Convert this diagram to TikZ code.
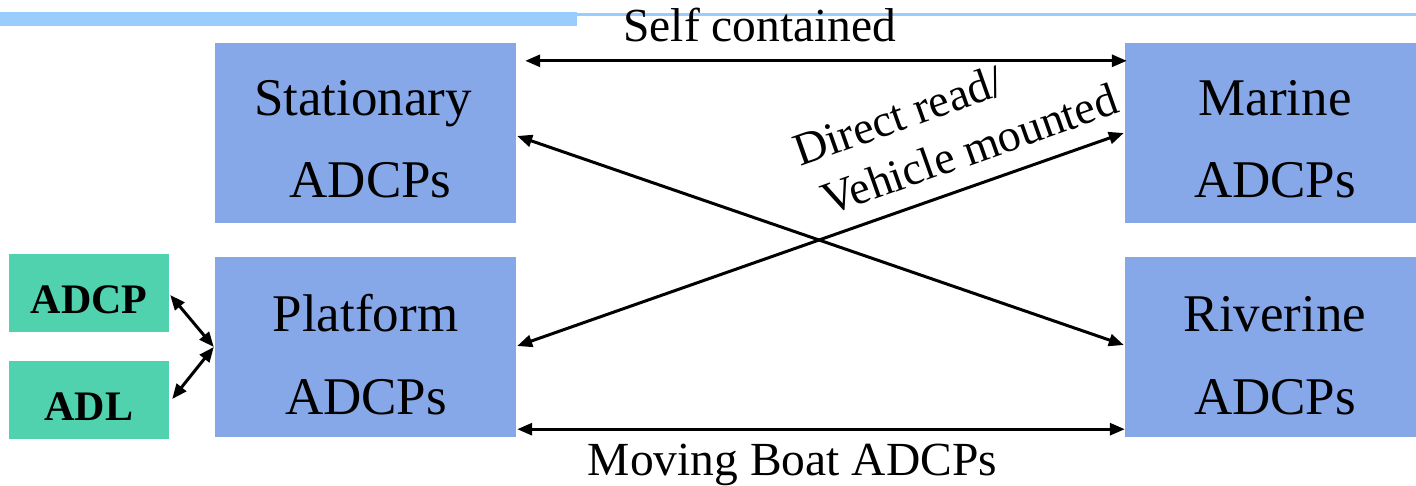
\documentclass[tikz,border=0pt]{standalone}
\usepackage{fontspec}
\setmainfont{Liberation Serif}
\usetikzlibrary{arrows.meta,calc}
\definecolor{boxblue}{HTML}{87A8E8}
\definecolor{boxgreen}{HTML}{50D2AF}
\definecolor{barblue}{HTML}{99CCFF}
\begin{document}
\begin{tikzpicture}[x=1pt,y=-1pt,
  bigbox/.style={fill=boxblue,draw=none,minimum width=301pt,minimum height=180pt,inner sep=0pt},
  smallbox/.style={fill=boxgreen,draw=none,minimum width=160pt,minimum height=78pt,inner sep=0pt},
  boxtext/.style={anchor=base,inner sep=0pt,font=\fontsize{53}{60}\selectfont},
  smalltext/.style={anchor=base,inner sep=0pt,font=\fontsize{42}{48}\selectfont\bfseries},
  linklabel/.style={anchor=base,inner sep=0pt,font=\fontsize{47.5}{54}\selectfont},
  slanted/.style={anchor=base west,inner sep=0pt,rotate=19.5,align=left,font=\fontsize{46}{55.6}\selectfont},
  link/.style={line width=3pt,{Triangle[length=15pt,width=12pt]}-{Triangle[length=15pt,width=12pt]}}]
\useasboundingbox (0,0) rectangle (1416,486);
\fill[white] (0,0) rectangle (1416,486);
% top bar
\fill[barblue] (0,12) rectangle (577,26);
\fill[barblue] (577,13) rectangle (1416,16.5);
% boxes
\node[bigbox] (st) at (365.5,133) {};
\node[bigbox] (mr) at (1275.5,133) {};
\node[bigbox] (pl) at (365.5,347) {};
\node[bigbox] (rv) at (1275.5,347) {};
\node[smallbox] (ad) at (89,293) {};
\node[smallbox] (adl) at (89,400) {};
% box texts
\node[boxtext] (st1) at (363,116) {Stationary};
\node[boxtext] (st2) at (370.5,198) {ADCPs};
\node[boxtext] (mr1) at (1275,116) {Marine};
\node[boxtext] (mr2) at (1275,198) {ADCPs};
\node[boxtext] (pl1) at (365.5,331) {Platform};
\node[boxtext] (pl2) at (366,414) {ADCPs};
\node[boxtext] (rv1) at (1275,331) {Riverine};
\node[boxtext] (rv2) at (1275,414) {ADCPs};
\node[smalltext] (adt) at (89,313) {ADCP};
\node[smalltext] (adlt) at (89,420) {ADL};
% connectors
\draw[link] ($(st.north east)+(9,18)$) -- ($(mr.north west)+(2,18)$);
\draw[link] ($(pl.south east)+(1,-8)$) -- ($(rv.south west)+(0,-8)$);
\draw[link] ($(st.east)+(1,3)$) -- ($(rv.west)+(-1,-2)$);
\draw[link] ($(pl.east)+(1,-1)$) -- ($(mr.west)+(-1,0)$);
\draw[link] ($(ad.east)+(1,2)$) -- ($(pl.west)+(-1,0)$);
\draw[link] ($(adl.east)+(3,-1)$) -- ($(pl.west)+(-1,0)$);
% connector labels
\node[linklabel] (self) at (760,42) {Self contained};
\node[linklabel] (moving) at (792.5,475) {Moving Boat ADCPs};
\node[slanted] (dv) at (818.6,219.3) {Direct read/\\\hspace*{10pt}Vehicle mounted};
\end{tikzpicture}
\end{document}
